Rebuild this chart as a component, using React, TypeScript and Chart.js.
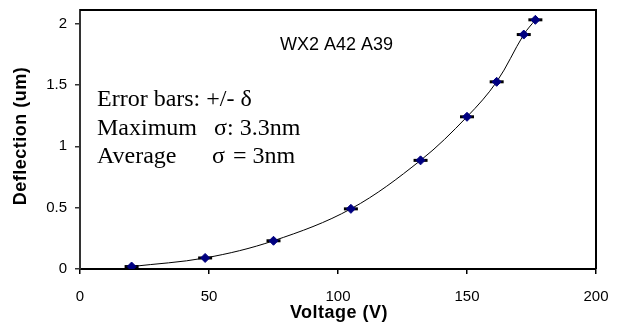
import React, { useEffect, useRef } from "react";
import { Chart, registerables } from "chart.js";

Chart.register(...registerables);

const voltage = [20, 48.5, 75, 105, 132, 150, 161.5, 172, 176.5];
const deflection = [0.02, 0.09, 0.23, 0.49, 0.885, 1.24, 1.525, 1.91, 2.03];
const xTicks = [0, 50, 100, 150, 200];
const yTicks = [0, 0.5, 1, 1.5, 2];
const chartLabel = "WX2 A42 A39";
const noteLine1 = "Error bars: +/- δ";
const noteLine2: [string, string, string] = ["Maximum", "σ", ": 3.3nm"];
const noteLine3: [string, string, string] = ["Average", "σ", "= 3nm"];
const xTitle = "Voltage (V)";
const yTitle = "Deflection (um)";

const SANS = "'Liberation Sans', Arial, sans-serif";
const SERIF = "'Liberation Serif', 'Times New Roman', serif";

export default function App() {
  const ref = useRef<HTMLCanvasElement | null>(null);
  useEffect(() => {
    document.body.style.margin = "0";
    const canvas = ref.current!;
    const pts = voltage.map((v, i) => ({ x: v, y: deflection[i] }));
    const overlay = {
      id: "overlay",
      afterDraw(chart: any) {
        const { ctx, chartArea: a } = chart;
        ctx.save();
        ctx.strokeStyle = "#000";
        ctx.lineWidth = 2;
        ctx.beginPath();
        ctx.moveTo(a.left, a.top);
        ctx.lineTo(a.right, a.top);
        ctx.lineTo(a.right, a.bottom);
        ctx.stroke();
        ctx.fillStyle = "#000";
        ctx.font = `18px ${SANS}`;
        ctx.textBaseline = "alphabetic";
        ctx.textAlign = "left";
        ctx.fillText(chartLabel, a.left + 200, a.top + 40);
        ctx.font = `24px ${SERIF}`;
        const L = a.left + 17;
        ctx.fillText(noteLine1, L, 106);
        ctx.fillText(noteLine2[0], L, 135);
        ctx.fillText(noteLine2[1], L + 117, 135);
        ctx.fillText(noteLine2[2], L + 130, 135);
        ctx.fillText(noteLine3[0], L, 163);
        ctx.fillText(noteLine3[1], L + 115, 163);
        ctx.fillText(noteLine3[2], L + 136, 163);
        ctx.font = `bold 18px ${SANS}`;
        (ctx as any).letterSpacing = "0.5px";
        ctx.textAlign = "center";
        ctx.textBaseline = "middle";
        ctx.fillText(xTitle, (a.left + a.right) / 2 + 1, 313);
        ctx.translate(21, 136);
        ctx.rotate(-Math.PI / 2);
        ctx.fillText(yTitle, 0, 0);
        ctx.restore();
      },
    };
    const chart = new Chart(canvas, {
      type: "scatter",
      data: {
        datasets: [
          {
            data: pts,
            showLine: true,
            borderColor: "#000",
            borderWidth: 1,
            tension: 0.35,
            pointStyle: "rectRot",
            pointRadius: 4.5,
            pointBackgroundColor: "#000080",
            pointBorderColor: "#000080",
            pointBorderWidth: 1,
            order: 0,
          },
          {
            data: pts,
            showLine: false,
            pointStyle: "line",
            pointRadius: 7,
            pointBorderColor: "#000",
            pointBorderWidth: 3,
            order: 1,
          },
        ],
      },
      options: {
        animation: false,
        responsive: false,
        events: [],
        layout: { padding: { left: 0, top: 6, right: 28, bottom: 0 } },
        plugins: { legend: { display: false }, tooltip: { enabled: false } },
        scales: {
          x: {
            type: "linear",
            min: 0,
            max: 200,
            afterFit(s: any) {
              s.height = 60;
              s.paddingLeft = 0;
              s.paddingRight = 0;
            },
            afterBuildTicks(s: any) {
              s.ticks = xTicks.map((v) => ({ value: v }));
            },
            ticks: {
              color: "#000",
              font: { family: SANS, size: 15 },
              padding: 14,
              maxRotation: 0,
              callback: (v: any) => String(v),
            },
            grid: { drawOnChartArea: false, drawTicks: true, tickLength: 5, color: "#000", lineWidth: 1.5 },
            border: { display: true, color: "#000", width: 2 },
          },
          y: {
            type: "linear",
            min: 0,
            max: 2.11,
            afterFit(s: any) {
              s.width = 80;
              s.paddingTop = 0;
              s.paddingBottom = 0;
            },
            afterBuildTicks(s: any) {
              s.ticks = yTicks.map((v) => ({ value: v }));
            },
            ticks: {
              color: "#000",
              font: { family: SANS, size: 15 },
              padding: 8,
              callback: (v: any) => String(v),
            },
            grid: { drawOnChartArea: false, drawTicks: true, tickLength: 5, color: "#333", lineWidth: 1.5 },
            border: { display: true, color: "#333", width: 2 },
          },
        },
      },
      plugins: [overlay],
    });
    return () => chart.destroy();
  }, []);
  return (
    <div>
      <canvas ref={ref} width={624} height={329} style={{ display: "block", width: "624px", height: "329px" }} />
    </div>
  );
}
